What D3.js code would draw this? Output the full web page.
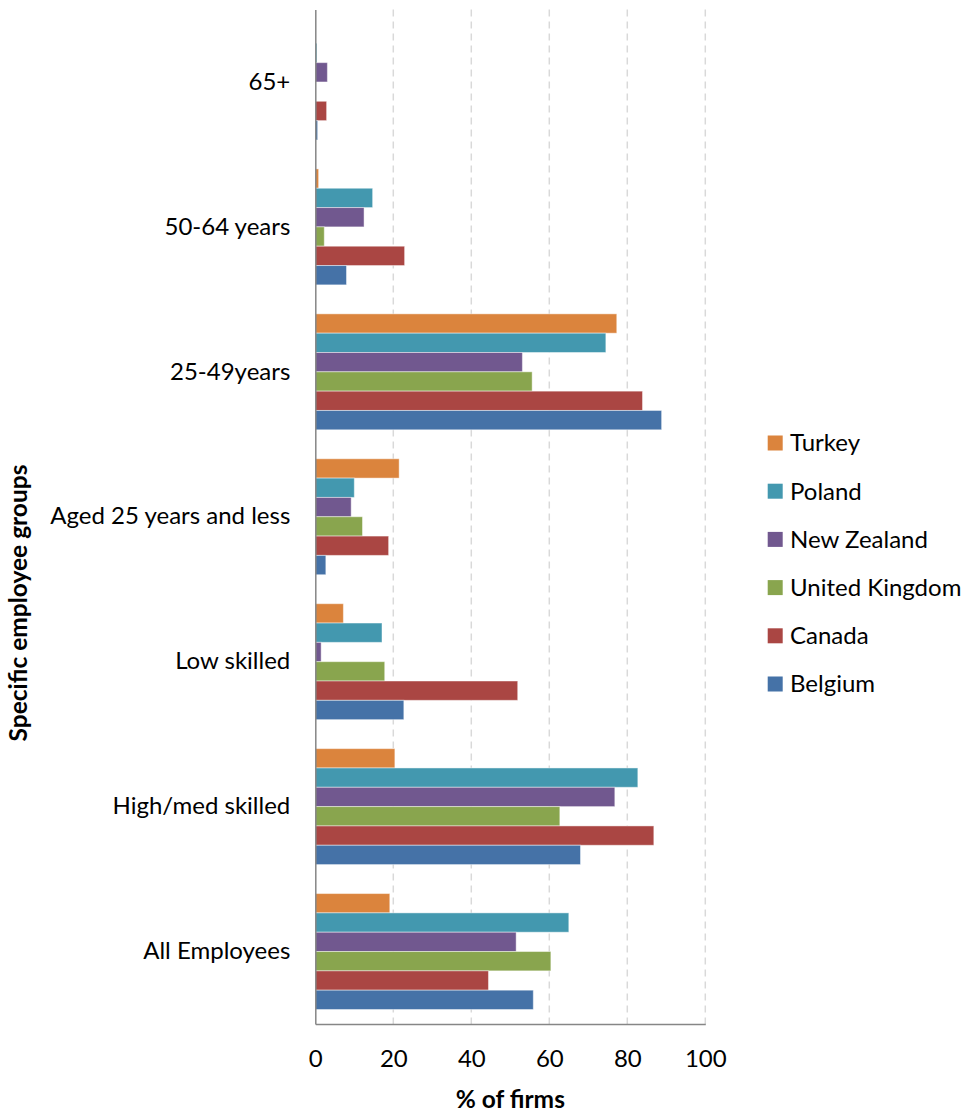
<!DOCTYPE html>
<html><head><meta charset="utf-8">
<script src="https://cdn.jsdelivr.net/npm/d3@7"></script>
<style>body{margin:0;background:#fff}svg{display:block;font-family:Lato,"Open Sans",sans-serif}</style>
</head><body><svg id="c" width="967" height="1116"></svg>
<script>
// categories listed top to bottom
const categories = ["65+","50-64 years","25-49years","Aged 25 years and less","Low skilled","High/med skilled","All Employees"];
const seriesNames = ["Turkey","Poland","New Zealand","United Kingdom","Canada","Belgium"];
const seriesColors = ["#DB843D","#4398AF","#71588F","#89A54E","#AA4643","#4572A7"];
const turkey  = [0,   0.85, 77.3, 21.5,  7.2, 20.4, 19.1];
const poland  = [0.4, 14.7, 74.5, 10.0, 17.1, 82.7, 65.0];
const newZealand = [3.1, 12.5, 53.1, 9.2, 1.5, 76.8, 51.5];
const unitedKingdom = [0, 2.3, 55.6, 12.1, 17.8, 62.7, 60.4];
const canada  = [2.9, 22.9, 83.9, 18.8, 51.9, 86.8, 44.4];
const belgium = [0.6, 8.0, 88.8, 2.7, 22.7, 68.0, 55.9];
const xTicks = [0,20,40,60,80,100];
const xTitle = "% of firms";
const yTitle = "Specific employee groups";

const seriesValues = [turkey, poland, newZealand, unitedKingdom, canada, belgium];
const svg = d3.select("#c");
const L = 315.3, R = 705.3, T = 9.5, B = 1024;
const FS = 24;
const x = d3.scaleLinear().domain([0,100]).range([L,R]);
const y = d3.scaleBand().domain(categories).range([T,B]).padding(0);
const y1 = d3.scaleBand().domain(seriesNames).range([0,y.bandwidth()]).paddingInner(0).paddingOuter(0.75);

// gridlines
svg.append("g").selectAll("line").data(xTicks.filter(d=>d>0)).join("line")
  .attr("x1",d=>x(d)).attr("x2",d=>x(d)).attr("y1",T).attr("y2",B)
  .attr("stroke","#d9d9d9").attr("stroke-width",1.5).attr("stroke-dasharray","7,5");

// bars
const g = svg.append("g");
seriesNames.forEach((s,si)=>{
  g.append("g").selectAll("rect").data(categories.map((c,i)=>({c,v:seriesValues[si][i]}))).join("rect")
    .attr("x",x(0)).attr("y",d=>y(d.c)+y1(s)).attr("height",y1.bandwidth())
    .attr("width",d=>x(d.v)-x(0)).attr("fill",seriesColors[si])
    .attr("stroke",d=>d.v>0?"rgba(255,255,255,0.45)":"none").attr("stroke-width",1);
});

// axes
const xAxis = svg.append("g").attr("transform",`translate(0,${B})`)
  .call(d3.axisBottom(x).tickValues(xTicks).tickSize(0).tickPadding(26));
xAxis.select(".domain").attr("stroke","#868686").attr("stroke-width",1.5);
xAxis.selectAll("text").attr("font-size",FS).attr("fill","#000").attr("font-family","Lato");

const yAxis = svg.append("g").attr("transform",`translate(${L},0)`)
  .call(d3.axisLeft(y).tickSize(0).tickPadding(25));
yAxis.select(".domain").attr("stroke","#868686").attr("stroke-width",1.5);
yAxis.selectAll("text").attr("font-size",FS).attr("fill","#000").attr("font-family","Lato");

// titles
svg.append("text").attr("x",(L+R)/2).attr("y",1108).attr("text-anchor","middle")
  .attr("font-size",24.5).attr("font-weight","bold").text(xTitle);
svg.append("text").attr("transform","translate(27,603) rotate(-90)").attr("text-anchor","middle")
  .attr("font-size",24.5).attr("font-weight","bold").text(yTitle);

// legend
const lg = svg.append("g");
seriesNames.forEach((s,i)=>{
  const cy = 443 + i*48.2;
  lg.append("rect").attr("x",767.7).attr("y",cy-7.5).attr("width",15).attr("height",15).attr("fill",seriesColors[i]);
  lg.append("text").attr("x",790).attr("y",cy).attr("dy","0.35em").attr("font-size",FS).text(s);
});
</script></body></html>
